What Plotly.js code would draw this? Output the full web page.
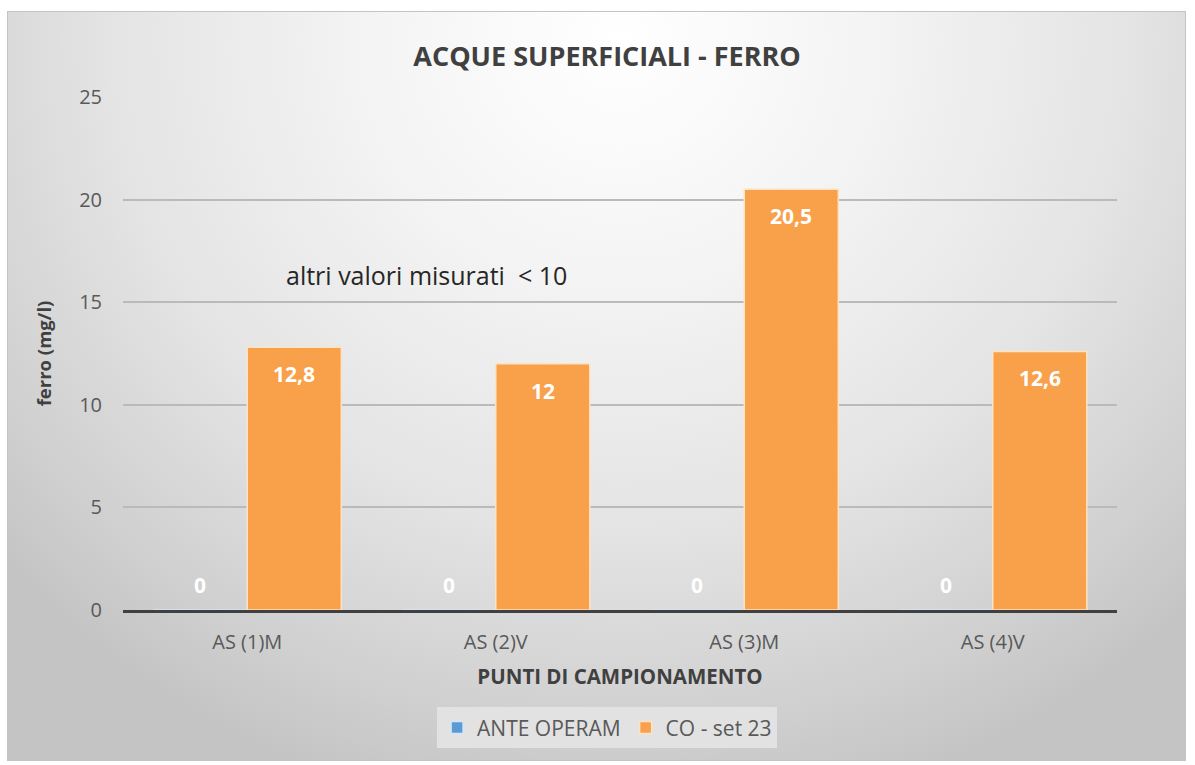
<!DOCTYPE html>
<html>
<head>
<meta charset="utf-8">
<script src="https://cdn.plot.ly/plotly-3.0.1.min.js"></script>
<style>
  html, body { margin: 0; padding: 0; background: #ffffff; }
  #wrap { position: relative; width: 1195px; height: 765px; overflow: hidden; background: #ffffff; }
  #chart {
    position: absolute; left: 7px; top: 11px; width: 1177px; height: 748px;
    border: 1px solid #c4c4c4;
    background: radial-gradient(ellipse 70% 105% at 52% 4%, #ffffff 0%, #f4f4f4 30%, #e4e4e4 62%, #cfcfcf 88%, #c4c4c4 100%);
  }
</style>
</head>
<body>
<div id="wrap"><div id="chart"></div></div>
<script>
// ---- data ----
const categories = ["AS (1)M", "AS (2)V", "AS (3)M", "AS (4)V"];
const anteOperam = [0, 0, 0, 0];
const coSet23 = [12.8, 12, 20.5, 12.6];
const seriesNames = ["ANTE OPERAM", "CO - set 23"];
const yTicks = [0, 5, 10, 15, 20, 25];

const FONT = "Open Sans, Noto Sans, sans-serif";
const BLUE = "#5b9bd5";
const ORANGE = "#f9a04b";

function fmt(v) { return String(v).replace(".", ","); }

const traces = [
  {
    type: "bar", name: seriesNames[0], x: categories, y: anteOperam,
    marker: { color: BLUE, line: { color: "#d6e6f5", width: 1.5 } },
    hoverinfo: "x+y"
  },
  {
    type: "bar", name: seriesNames[1], x: categories, y: coSet23,
    marker: { color: ORANGE, line: { color: "#fde3c6", width: 1.5 } },
    hoverinfo: "x+y"
  }
];

const annotations = [];
categories.forEach((c, i) => {
  annotations.push({
    x: c, y: anteOperam[i], xref: "x", yref: "y", text: "<b>" + fmt(anteOperam[i]) + "</b>",
    showarrow: false, xshift: -47, yshift: 25, yanchor: "middle",
    font: { family: FONT, size: 21, color: "#ffffff" }
  });
  annotations.push({
    x: c, y: coSet23[i], xref: "x", yref: "y", text: "<b>" + fmt(coSet23[i]) + "</b>",
    showarrow: false, xshift: 47, yshift: -27, yanchor: "middle",
    font: { family: FONT, size: 21, color: "#ffffff" }
  });
});
annotations.push({
  x: 0.305, y: 0.653, xref: "paper", yref: "paper", text: "altri valori misurati  &lt; 10",
  showarrow: false, xanchor: "center", yanchor: "middle",
  font: { family: FONT, size: 25, color: "#262626" }
});

const layout = {
  width: 1177, height: 748,
  margin: { l: 115, r: 68, t: 85, b: 150 },
  paper_bgcolor: "rgba(0,0,0,0)",
  plot_bgcolor: "rgba(0,0,0,0)",
  separators: ",.",
  font: { family: FONT, color: "#595959" },
  title: {
    text: "<b>ACQUE SUPERFICIALI - FERRO</b>",
    x: 0.509, xanchor: "center", y: 0.94, yanchor: "middle", yref: "container",
    font: { family: FONT, size: 27, color: "#404040" }
  },
  barmode: "group",
  bargap: 0.243,
  bargroupgap: 0,
  showlegend: true,
  legend: {
    orientation: "h", x: 0.487, xanchor: "center", y: -0.19, yanchor: "top",
    bgcolor: "#e2e2e2", borderwidth: 0,
    font: { family: FONT, size: 21, color: "#595959" },
    itemwidth: 30, traceorder: "normal"
  },
  xaxis: {
    type: "category",
    showgrid: false,
    showline: true, linecolor: "#404040", linewidth: 3,
    ticks: "", ticklabelstandoff: 12,
    tickfont: { family: FONT, size: 20, color: "#595959" },
    title: { text: "<b>PUNTI DI CAMPIONAMENTO</b>", standoff: 16, font: { family: FONT, size: 20.5, color: "#404040" } },
    fixedrange: true
  },
  yaxis: {
    range: [0, 25],
    tickvals: yTicks,
    ticktext: yTicks.map(String),
    showgrid: true, gridcolor: "#bababa", gridwidth: 2,
    zeroline: false, showline: false,
    ticks: "", ticklabelstandoff: 20,
    tickfont: { family: FONT, size: 20, color: "#595959" },
    title: { text: "<b>ferro (mg/l)</b>", standoff: 22, font: { family: FONT, size: 18.5, color: "#404040" } },
    fixedrange: true
  },
  annotations: annotations
};

Plotly.newPlot("chart", traces, layout, { displayModeBar: false, staticPlot: true });
</script>
</body>
</html>
